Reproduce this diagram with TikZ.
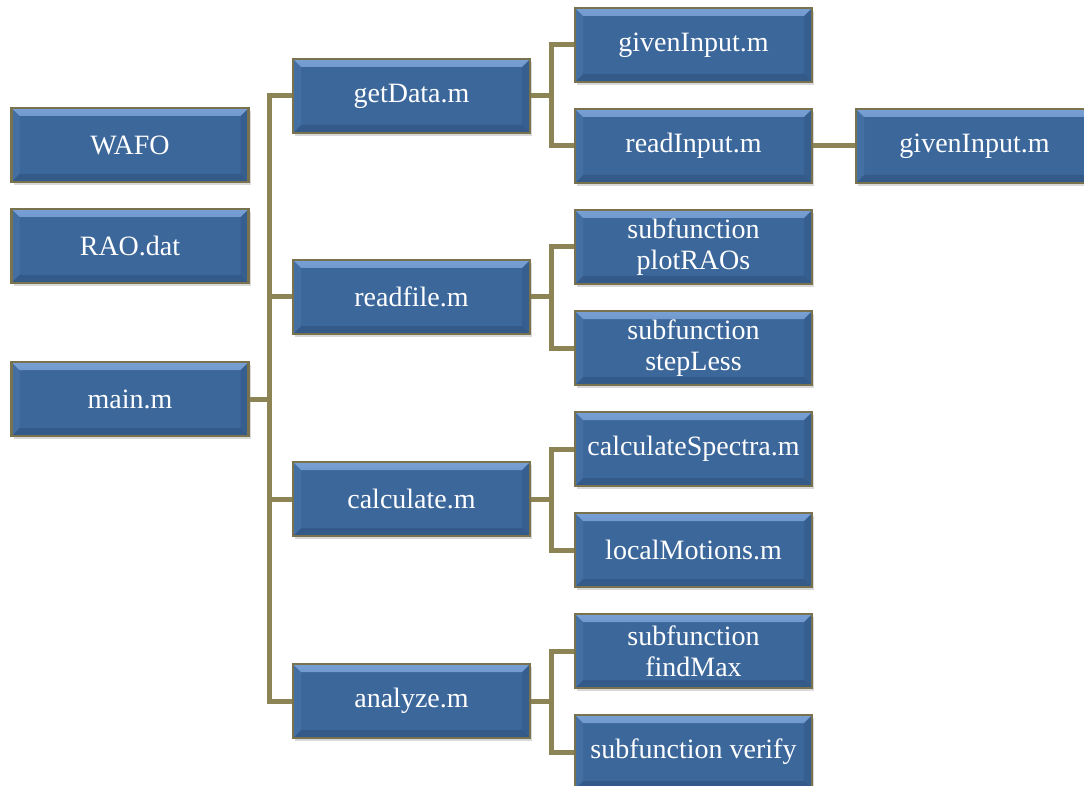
\documentclass[tikz,border=0pt]{standalone}
\usepackage{fontspec}
\setmainfont{Liberation Serif}
\usetikzlibrary{shadows}
\definecolor{boxblue}{RGB}{60,103,155}
\definecolor{boxlight}{RGB}{120,160,212}
\definecolor{boxdark}{RGB}{40,72,112}
\definecolor{boxborder}{RGB}{120,114,78}
\definecolor{conncol}{RGB}{140,132,84}
\tikzset{
  fbox/.style={draw=boxborder, line width=2.5pt, fill=boxblue,
    minimum width=237pt, minimum height=74pt, inner sep=0pt,
    text=white, align=center, font=\fontsize{28}{31}\selectfont,
    drop shadow={opacity=0.3, shadow xshift=2pt, shadow yshift=-3pt},
    path picture={
      \fill[top color=boxlight, bottom color=boxblue]
        (path picture bounding box.north west) -- (path picture bounding box.north east)
        -- ([xshift=-8pt,yshift=-8pt]path picture bounding box.north east)
        -- ([xshift=8pt,yshift=-8pt]path picture bounding box.north west) -- cycle;
      \fill[boxdark, opacity=0.4]
        (path picture bounding box.south west) -- (path picture bounding box.south east)
        -- ([xshift=-8pt,yshift=8pt]path picture bounding box.south east)
        -- ([xshift=8pt,yshift=8pt]path picture bounding box.south west) -- cycle;
      \fill[boxdark, opacity=0.25]
        (path picture bounding box.north east) -- (path picture bounding box.south east)
        -- ([xshift=-8pt,yshift=8pt]path picture bounding box.south east)
        -- ([xshift=-8pt,yshift=-8pt]path picture bounding box.north east) -- cycle;
      \fill[boxlight, opacity=0.15]
        (path picture bounding box.north west) -- (path picture bounding box.south west)
        -- ([xshift=8pt,yshift=8pt]path picture bounding box.south west)
        -- ([xshift=8pt,yshift=-8pt]path picture bounding box.north west) -- cycle;
    }},
  conn/.style={draw=conncol, line width=5pt, line join=miter}
}
\begin{document}
\begin{tikzpicture}[x=1pt,y=-1pt]
\useasboundingbox (0,0) rectangle (1084,786);
\clip (0,0) rectangle (1084,786);
% left column
\node[fbox] (wafo) at (130,145) {WAFO};
\node[fbox] (rao) at (130,246) {RAO.dat};
\node[fbox] (main) at (130,399) {main.m};
% second column
\node[fbox] (getdata) at (411.5,96) {getData.m};
\node[fbox] (readfile) at (411.5,297) {readfile.m};
\node[fbox] (calculate) at (411.5,499) {calculate.m};
\node[fbox] (analyze) at (411.5,701) {analyze.m};
% third column
\node[fbox] (given1) at (693.5,45) {givenInput.m};
\node[fbox] (readinput) at (693.5,146) {readInput.m};
\node[fbox] (plotraos) at (693.5,247) {subfunction\\plotRAOs};
\node[fbox] (stepless) at (693.5,348) {subfunction\\stepLess};
\node[fbox] (calcspec) at (693.5,449) {calculateSpectra.m};
\node[fbox] (localmot) at (693.5,550) {localMotions.m};
\node[fbox] (findmax) at (693.5,651) {subfunction\\findMax};
\node[fbox] (verify) at (693.5,752) {subfunction verify};
% fourth column
\node[fbox] (given2) at (974.5,146) {givenInput.m};
% trunk coordinates
\coordinate (t1) at ([xshift=-22pt]getdata.west);
% connectors from main
\draw[conn] (main.east) -- (main.east -| t1);
\draw[conn] (getdata.west) -| ([xshift=-22pt]analyze.west) -- (analyze.west);
\draw[conn] (readfile.west) -- ++(-22,0);
\draw[conn] (calculate.west) -- ++(-22,0);
% getData
\draw[conn] (getdata.east) -- ++(23,0);
\draw[conn] (given1.west) -| ([xshift=-22pt]readinput.west) -- (readinput.west);
% readfile
\draw[conn] (readfile.east) -- ++(23,0);
\draw[conn] (plotraos.west) -| ([xshift=-22pt]stepless.west) -- (stepless.west);
% calculate
\draw[conn] (calculate.east) -- ++(23,0);
\draw[conn] (calcspec.west) -| ([xshift=-22pt]localmot.west) -- (localmot.west);
% analyze
\draw[conn] (analyze.east) -- ++(23,0);
\draw[conn] (findmax.west) -| ([xshift=-22pt]verify.west) -- (verify.west);
% readInput -> givenInput
\draw[conn] (readinput.east) -- (given2.west);
\end{tikzpicture}
\end{document}
